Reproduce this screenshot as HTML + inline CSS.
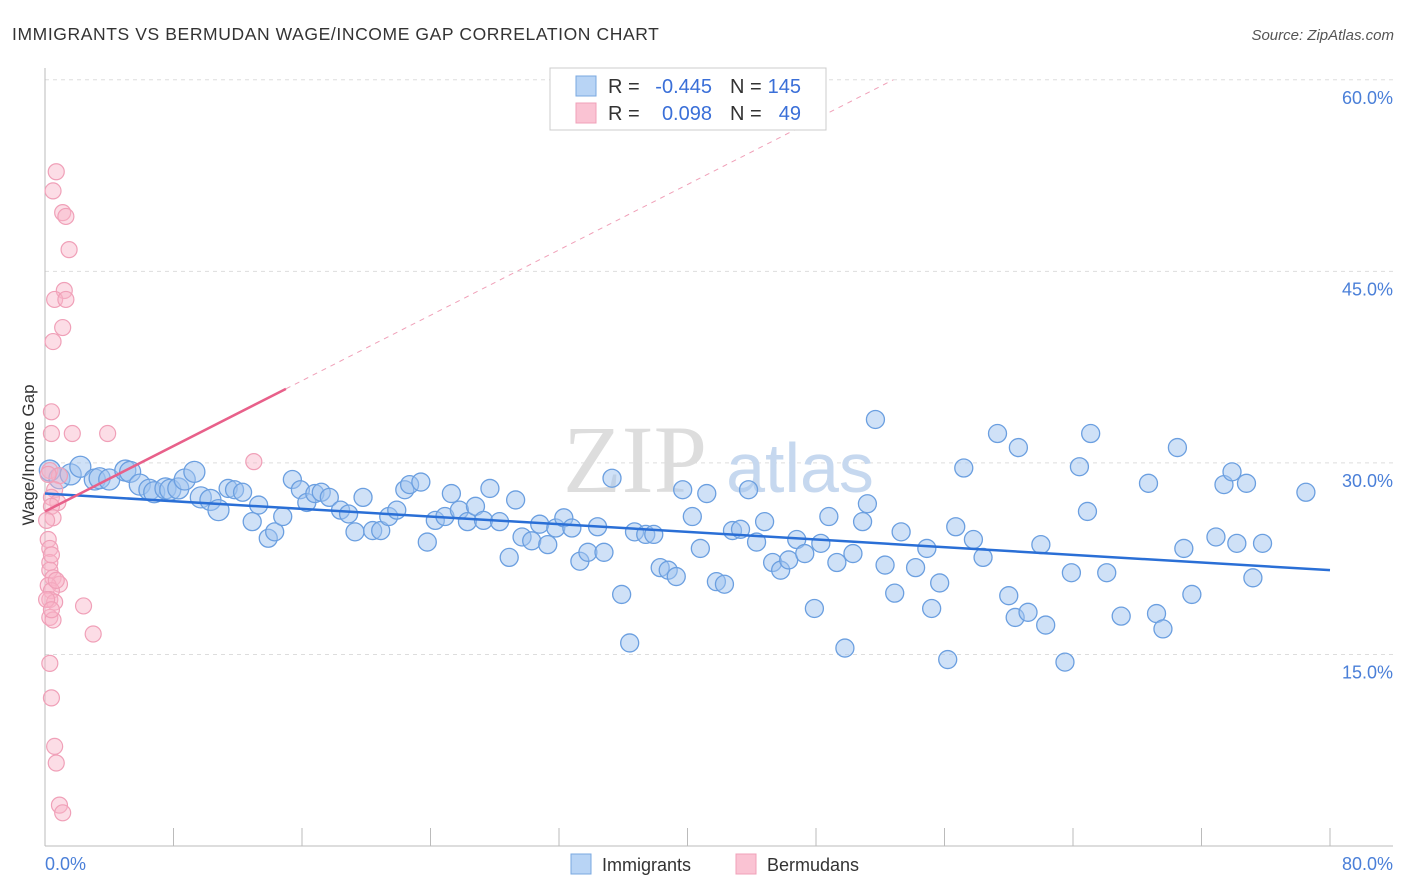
<!DOCTYPE html>
<html><head><meta charset="utf-8"><style>
body{margin:0;background:#fff;font-family:"Liberation Sans",sans-serif;}
svg{display:block}
</style></head><body>
<svg id="chart" width="1406" height="892" xmlns="http://www.w3.org/2000/svg">
<text x="12" y="40" font-size="17.5" letter-spacing="0.6" fill="#333">IMMIGRANTS VS BERMUDAN WAGE/INCOME GAP CORRELATION CHART</text>
<text x="1394" y="40" font-size="15" fill="#555" font-style="italic" text-anchor="end">Source: ZipAtlas.com</text>
<g id="grid"></g>
<g><text x="635" y="492" font-size="96" font-family="Liberation Serif,serif" fill="#ddd" text-anchor="middle">ZIP</text><text x="800" y="492" font-size="70" fill="#c6d8ef" text-anchor="middle">atlas</text></g>
<g id="axes"></g>
<g id="pts"></g>
<g id="lines"></g>
<text x="34" y="455" font-size="17" fill="#333" text-anchor="middle" transform="rotate(-90 34 455)">Wage/Income Gap</text>
<g font-size="20">
<rect x="550" y="68" width="276" height="62" fill="#fff" stroke="#ccc"/>
<rect x="576" y="76" width="20" height="20" fill="#b8d4f5" stroke="#7aa8e0"/>
<rect x="576" y="103" width="20" height="20" fill="#fac3d3" stroke="#f0a0b8"/>
<text x="608" y="93" fill="#333">R =</text><text x="712" y="93" fill="#3a6fd8" text-anchor="end">-0.445</text>
<text x="730" y="93" fill="#333">N =</text><text x="801" y="93" fill="#3a6fd8" text-anchor="end">145</text>
<text x="608" y="120" fill="#333">R =</text><text x="712" y="120" fill="#3a6fd8" text-anchor="end">0.098</text>
<text x="730" y="120" fill="#333">N =</text><text x="801" y="120" fill="#3a6fd8" text-anchor="end">49</text>
</g>
<g>
<rect x="571" y="854" width="20" height="20" fill="#b8d4f5" stroke="#7aa8e0"/>
<text x="602" y="871" font-size="18" fill="#333">Immigrants</text>
<rect x="736" y="854" width="20" height="20" fill="#fac3d3" stroke="#f0a0b8"/>
<text x="767" y="871" font-size="18" fill="#333">Bermudans</text>
</g>
</svg>
<script>
const blueX=[0.3,0.9,1.6,2.2,3.1,3.4,4.0,5.0,5.3,5.9,6.5,6.8,7.5,7.8,8.3,8.7,9.3,9.7,10.3,10.8,11.4,11.8,12.3,12.9,13.3,13.9,14.3,14.8,15.4,15.9,16.3,16.8,17.2,17.7,18.4,18.9,19.3,19.8,20.4,20.9,21.4,21.9,22.4,22.7,23.4,23.8,24.3,24.9,25.3,25.8,26.3,26.8,27.3,27.7,28.3,28.9,29.3,29.7,30.3,30.8,31.3,31.8,32.3,32.8,33.3,33.8,34.4,34.8,35.3,35.9,36.4,36.7,37.4,37.9,38.3,38.8,39.3,39.7,40.3,40.8,41.2,41.8,42.3,42.8,43.3,43.8,44.3,44.8,45.3,45.8,46.3,46.8,47.3,47.9,48.3,48.8,49.3,49.8,50.3,50.9,51.2,51.7,52.3,52.9,53.3,54.2,54.9,55.2,55.7,56.2,56.7,57.2,57.8,58.4,59.3,60.0,60.4,60.6,61.2,62.0,62.3,63.5,63.9,64.4,64.9,65.1,66.1,67.0,68.7,69.2,69.6,70.5,70.9,71.4,72.9,73.4,73.9,74.2,74.8,75.2,75.8,78.5];
const blueY=[29.4,28.8,29.1,29.7,28.7,28.8,28.7,29.4,29.3,28.3,27.9,27.7,28.0,27.9,28.0,28.7,29.3,27.3,27.1,26.3,28.0,27.9,27.7,25.4,26.7,24.1,24.6,25.8,28.7,27.9,26.9,27.6,27.7,27.3,26.3,26.0,24.6,27.3,24.7,24.7,25.8,26.3,27.9,28.3,28.5,23.8,25.5,25.8,27.6,26.3,25.4,26.6,25.5,28.0,25.4,22.6,27.1,24.2,23.9,25.2,23.6,24.9,25.7,24.9,22.3,23.0,25.0,23.0,28.8,19.7,15.9,24.6,24.4,24.4,21.8,21.6,21.1,27.9,25.8,23.3,27.6,20.7,20.5,24.7,24.8,27.9,23.8,25.4,22.2,21.6,22.4,24.0,22.9,18.6,23.7,25.8,22.2,15.5,22.9,25.4,26.8,33.4,22.0,19.8,24.6,21.8,23.3,18.6,20.6,14.6,25.0,29.6,24.0,22.6,32.3,19.6,17.9,31.2,18.3,23.6,17.3,14.4,21.4,29.7,26.2,32.3,21.4,18.0,28.4,18.2,17.0,31.2,23.3,19.7,24.2,28.3,29.3,23.7,28.4,21.0,23.7,27.7];
const pinkX=[0.7,0.5,1.1,1.3,1.5,1.2,0.6,1.3,1.1,0.5,0.4,0.4,1.7,3.9,13.0,0.3,0.9,0.6,0.4,0.8,0.4,0.5,0.2,0.3,0.3,0.3,0.5,0.9,0.2,0.4,0.3,0.6,2.4,0.3,0.5,3.0,0.3,0.4,0.6,0.7,0.9,1.1,0.2,0.1,0.7,0.4,0.1,0.4];
const pinkY=[52.8,51.3,49.6,49.3,46.7,43.5,42.8,42.8,40.6,39.5,34.0,32.3,32.3,32.3,30.1,29.4,29.0,27.9,27.3,26.9,26.6,25.7,24.0,23.3,22.2,21.6,21.0,20.5,20.4,20.0,19.3,19.1,18.8,17.9,17.7,16.6,14.3,11.6,7.8,6.5,3.2,2.6,29.1,25.5,20.8,22.8,19.3,18.5];
const yTicks=[15,30,45,60];
const blueTrend=[27.6,21.6]; // at x=0 and x=80
const pinkTrend=[26.2,35.8]; // at x=0 and x=15
const NS="http://www.w3.org/2000/svg";
const X=v=>45+v*1285/80, Y=v=>846-v*12.77;
function mk(t,a,p){const e=document.createElementNS(NS,t);for(const k in a)e.setAttribute(k,a[k]);p.appendChild(e);return e;}
const grid=document.getElementById('grid'),axes=document.getElementById('axes');
yTicks.forEach(t=>{
 const l=mk('line',{x1:45,x2:1393,y1:Y(t),y2:Y(t),stroke:'#ddd','stroke-dasharray':'4,4'},grid);
 
 
 const tx=mk('text',{x:1393,y:Y(t)+24,'font-size':18,fill:'#4a7fd8','text-anchor':'end'},axes);
 tx.textContent=t.toFixed(1)+'%';
 
 
});
mk('line',{x1:45,x2:45,y1:68,y2:846,stroke:'#bbb'},axes);
mk('line',{x1:45,x2:1393,y1:846,y2:846,stroke:'#bbb'},axes);
for(let i=1;i<=10;i++){const t=mk('line',{x1:X(i*8),x2:X(i*8),y1:828,y2:846,stroke:'#bbb'},axes);
 
 }
const x0=mk('text',{x:45,y:870,'font-size':18,fill:'#4a7fd8'},axes);x0.textContent='0.0%';


const x1=mk('text',{x:1393,y:870,'font-size':18,fill:'#4a7fd8','text-anchor':'end'},axes);x1.textContent='80.0%';


const pts=document.getElementById('pts');
blueX.forEach((v,i)=>{const c=mk('circle',{cx:X(v),cy:Y(blueY[i]),r:i<20?10.5:9,fill:'rgba(160,196,240,0.5)',stroke:'#6b9fe0','stroke-width':1.3},pts);
 
 });
pinkX.forEach((v,i)=>{const c=mk('circle',{cx:X(v),cy:Y(pinkY[i]),r:8,fill:'rgba(248,180,200,0.45)',stroke:'#f0a0b8','stroke-width':1.2},pts);
 
 });
const ln=document.getElementById('lines');
const bl=mk('line',{x1:X(0),y1:Y(blueTrend[0]),x2:X(80),y2:Y(blueTrend[1]),stroke:'#2a6fd6','stroke-width':2.5},ln);


const slope=(pinkTrend[1]-pinkTrend[0])/15;
const xe=(60-pinkTrend[0])/slope;
const pd=mk('line',{x1:X(15),y1:Y(pinkTrend[1]),x2:X(xe),y2:Y(pinkTrend[0]+slope*xe),stroke:'#f0a0b8','stroke-width':1,'stroke-dasharray':'5,5'},ln);


const pl=mk('line',{x1:X(0),y1:Y(pinkTrend[0]),x2:X(15),y2:Y(pinkTrend[1]),stroke:'#e8608a','stroke-width':2.5},ln);


</script>
</body></html>
